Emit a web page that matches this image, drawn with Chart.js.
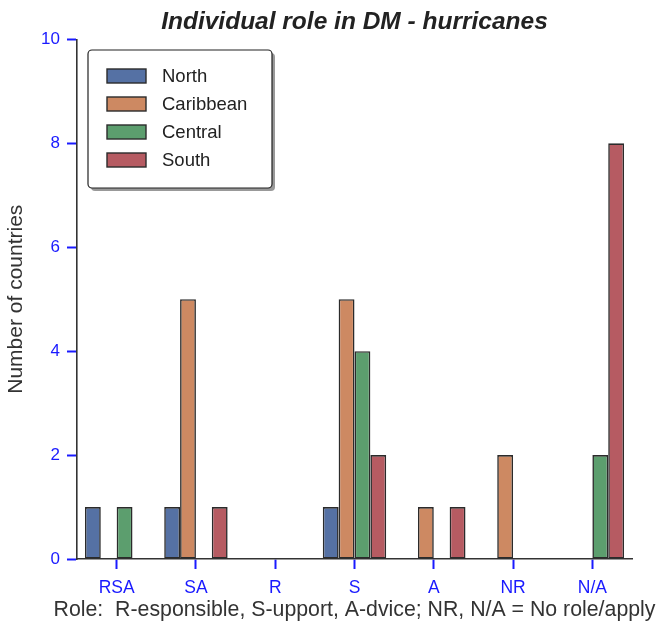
<!DOCTYPE html>
<html>
<head>
<meta charset="utf-8">
<script src="https://cdn.jsdelivr.net/npm/chart.js@4"></script>
<style>
  html, body { margin: 0; padding: 0; background: #fff; }
  #wrap { width: 658px; height: 625px; }
</style>
</head>
<body>
<div id="wrap"><canvas id="grafico"></canvas></div>
<script>
// datos
var roles = ['RSA', 'SA', 'R', 'S', 'A', 'NR', 'N/A'];
var north = [1, 1, 0, 1, 0, 0, 0];
var caribbean = [0, 5, 0, 5, 1, 2, 0];
var central = [1, 0, 0, 4, 0, 0, 2];
var south = [0, 1, 0, 2, 1, 0, 8];
var yTicks = [0, 2, 4, 6, 8, 10];

var tituloX = 'Role:  R-esponsible, S-upport, A-dvice; NR, N/A = No role/apply';
var fuente = '"Liberation Sans", Arial, sans-serif';

function serie(label, data, color) {
  return {
    label: label,
    data: data,
    backgroundColor: color,
    borderColor: '#2b2b2b',
    borderWidth: function(ctx) { return ctx.raw ? 1.6 : 0; },
    borderSkipped: false,
    categoryPercentage: 0.8,
    barPercentage: 1.0
  };
}

// leyenda dentro del area, con sombra, y titulo del eje x (sin recortar)
var leyenda = {
  id: 'leyenda',
  afterDraw: function(chart) {
    var c = chart.ctx;
    var x = 88, y = 50, w = 184, h = 138;
    c.save();
    c.fillStyle = 'rgba(0,0,0,0.4)';
    c.beginPath();
    c.roundRect(x + 3, y + 3, w, h, 4);
    c.fill();
    c.fillStyle = '#fff';
    c.strokeStyle = '#222';
    c.lineWidth = 1.2;
    c.beginPath();
    c.roundRect(x, y, w, h, 4);
    c.fill();
    c.stroke();
    c.font = '18.5px ' + fuente;
    c.textBaseline = 'middle';
    chart.data.datasets.forEach(function(ds, i) {
      var cy = y + 26 + i * 28;
      c.fillStyle = ds.backgroundColor;
      c.fillRect(x + 19, cy - 7, 39, 14);
      c.strokeStyle = '#2b2b2b';
      c.lineWidth = 1.4;
      c.strokeRect(x + 19, cy - 7, 39, 14);
      c.fillStyle = '#222';
      c.fillText(ds.label, x + 74, cy + 1);
    });

    var area = chart.chartArea;
    c.font = '21.3px ' + fuente;
    c.fillStyle = '#333';
    c.textAlign = 'center';
    c.fillText(tituloX, (area.left + area.right) / 2, chart.height - 15);
    c.restore();
  }
};

new Chart(document.getElementById('grafico').getContext('2d'), {
  type: 'bar',
  data: {
    labels: roles,
    datasets: [
      serie('North', north, '#5571a4'),
      serie('Caribbean', caribbean, '#cd8962'),
      serie('Central', central, '#5c9e6e'),
      serie('South', south, '#b65b62')
    ]
  },
  options: {
    responsive: true,
    maintainAspectRatio: false,
    animation: false,
    layout: { padding: { left: 0, right: 26, top: 0, bottom: 0 } },
    plugins: {
      legend: { display: false },
      tooltip: { enabled: false },
      title: {
        display: true,
        fullSize: false,
        text: 'Individual role in DM - hurricanes',
        color: '#222',
        font: { family: fuente, size: 24.5, weight: 'bold', style: 'italic' },
        padding: { top: 8, bottom: 2 }
      }
    },
    scales: {
      x: {
        offset: true,
        grid: { display: true, drawOnChartArea: false, tickLength: 10, tickColor: '#1a1aff', tickWidth: 2, offset: false },
        border: { color: '#333', width: 1.6 },
        ticks: { color: '#1a1aff', font: { family: fuente, size: 17.5 }, padding: 9 },
        afterFit: function(scale) { scale.height = 66; }
      },
      y: {
        min: 0,
        max: 10,
        afterBuildTicks: function(scale) {
          scale.ticks = yTicks.map(function(v) { return { value: v }; });
        },
        grid: { display: true, drawOnChartArea: false, tickLength: 10, tickColor: '#1a1aff', tickWidth: 2 },
        border: { color: '#333', width: 1.6 },
        ticks: { color: '#1a1aff', font: { family: fuente, size: 17 }, padding: 7 },
        title: {
          display: true,
          text: 'Number of countries',
          color: '#333',
          font: { family: fuente, size: 21 },
          padding: { top: 4, bottom: 8 }
        },
        afterFit: function(scale) { scale.width = 77; }
      }
    }
  },
  plugins: [leyenda]
});
</script>
</body>
</html>
